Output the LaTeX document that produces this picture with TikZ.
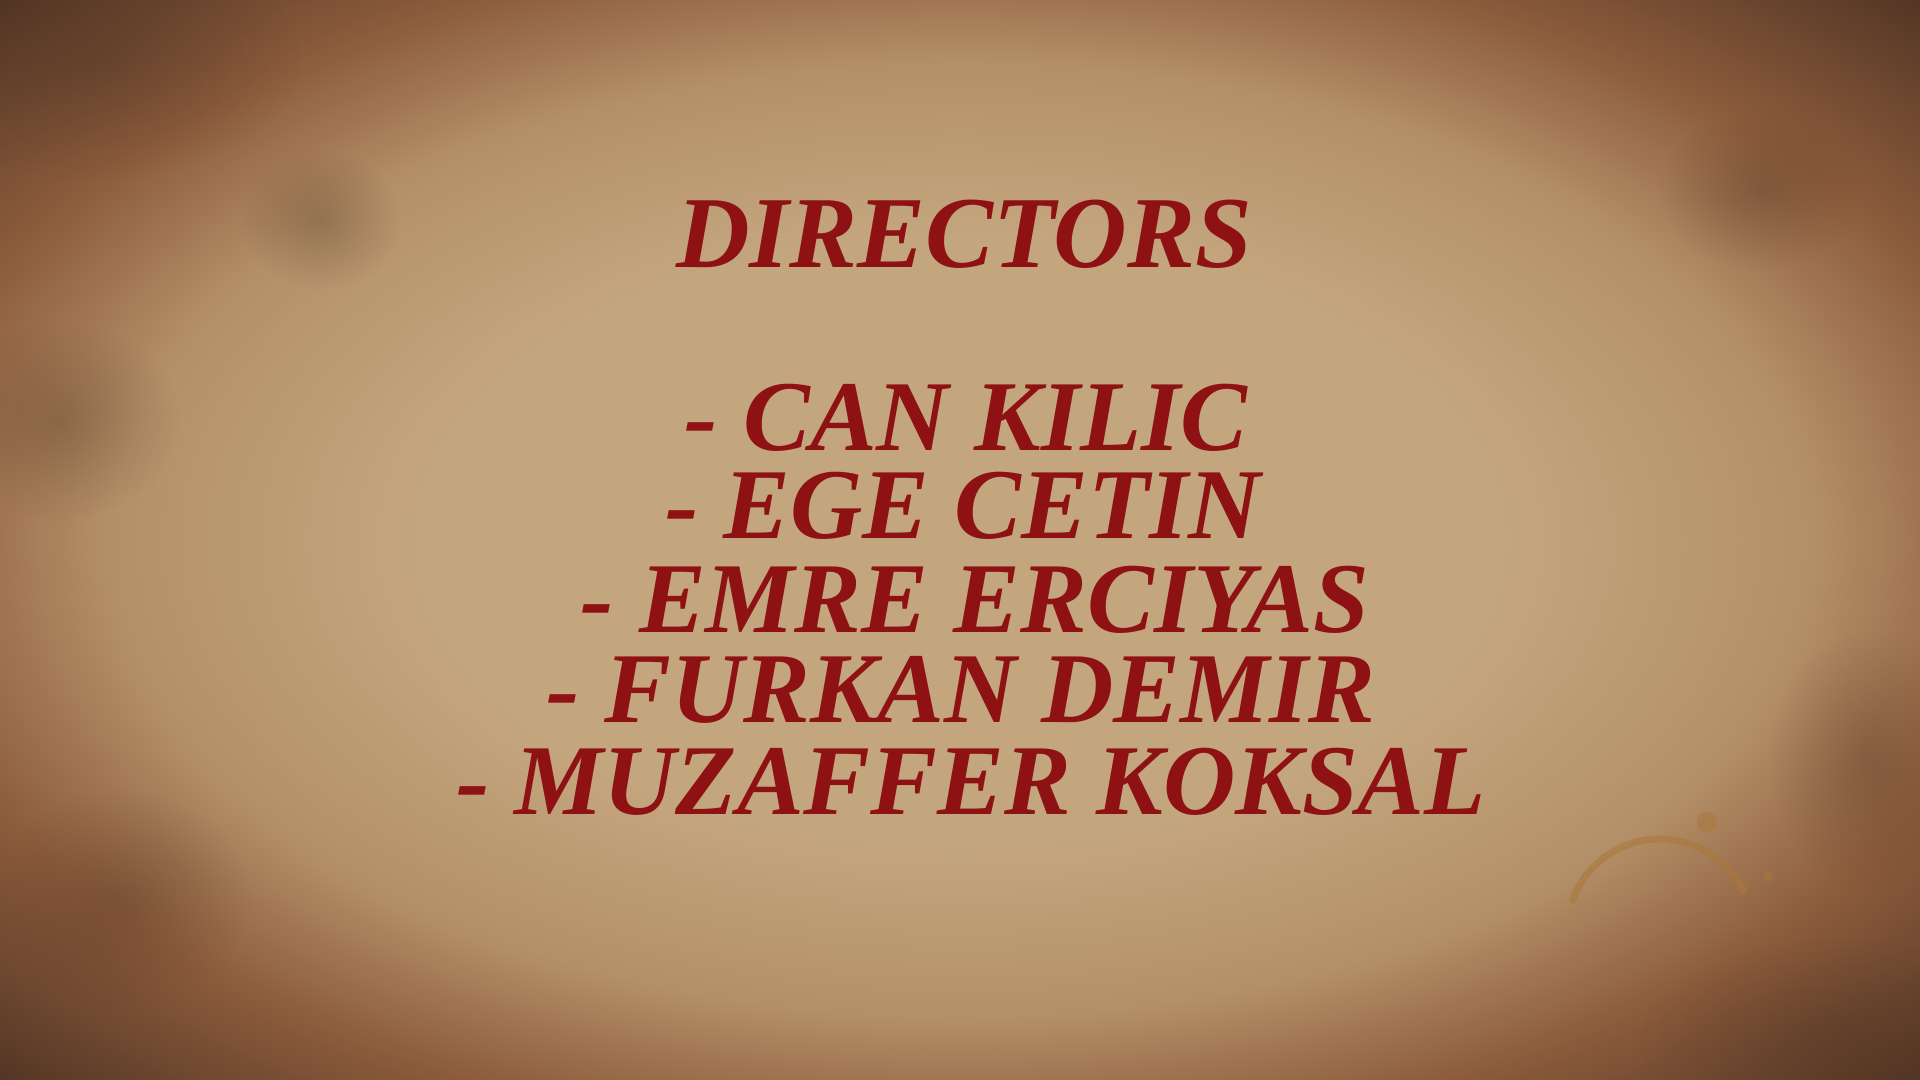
\documentclass[tikz,border=0pt]{standalone}
\usepackage{fontspec}
\setmainfont{Liberation Serif}
\usepackage{tikz}
\usetikzlibrary{calc}
\usetikzlibrary{fadings}
\usetikzlibrary{positioning}
\definecolor{inkred}{RGB}{142, 18, 20}
\definecolor{paperlight}{RGB}{196, 166, 126}
\definecolor{papermid}{RGB}{180, 144, 104}
\definecolor{paperdark}{RGB}{140, 92, 60}
\definecolor{paperedge}{RGB}{78, 50, 34}
\definecolor{stain}{RGB}{170, 120, 60}
\pgfdeclareradialshading{parchment}{\pgfpoint{0bp}{0bp}}{%
  color(0bp)=(paperlight); color(14bp)=(paperlight); color(22bp)=(papermid);
  color(28bp)=(paperdark); color(36bp)=(paperedge); color(50bp)=(paperedge)}
\tikzfading[name=softblot, inner color=transparent!70, outer color=transparent!100]
\tikzset{
    headline/.style = {
      text=inkred,
      font=\fontsize{29}{32}\selectfont\bfseries\itshape,
      inner sep=0pt,
      anchor=base
    },
    director/.style = {
      text=inkred,
      font=\fontsize{28.5}{32}\selectfont\bfseries\itshape,
      inner sep=0pt,
      anchor=base
    },
    blot/.style = {
      fill=paperedge,
      path fading=softblot
    },
}

\begin{document}
\begin{tikzpicture}
  % paper
  \useasboundingbox (0,0) rectangle (19.2,10.8);
  \shade[shading=parchment] (0,0) rectangle (19.2,10.8);
  \fill[blot] (3.2,8.6) ellipse (0.8 and 0.7);
  \fill[blot] (0.6,6.6) ellipse (1.2 and 1.0);
  \fill[blot] (17.6,8.9) ellipse (1.0 and 0.8);
  \fill[blot] (18.7,3.2) ellipse (1.0 and 1.3);
  \fill[blot] (1.2,1.8) ellipse (1.3 and 1.1);
  \fill[blot] (1.0,10.2) ellipse (2.0 and 1.2);
  \fill[blot] (18.4,0.4) ellipse (2.0 and 1.0);
  % coffee ring
  \draw[stain, opacity=0.6, line width=2pt, line cap=round]
    (16.6,1.48) ++(160:0.93) arc[start angle=160, end angle=26, radius=0.93];
  \fill[stain, opacity=0.6] (17.07,2.58) circle (0.1);
  \fill[stain, opacity=0.5] (17.68,2.03) circle (0.05);

  % names
  \node[headline] (directors) at (9.64,8.12) {DIRECTORS};
  \node[director] (can) at (9.66,6.29) {- CAN KILIC};
  \node[director] (ege) at (9.63,5.41) {- EGE CETIN};
  \node[director] (emre) at (9.75,4.47) {- EMRE ERCIYAS};
  \node[director] (furkan) at (9.61,3.57) {- FURKAN DEMIR};
  \node[director] (muzaffer) at (9.71,2.65) {- MUZAFFER KOKSAL};
\end{tikzpicture}
\end{document}
